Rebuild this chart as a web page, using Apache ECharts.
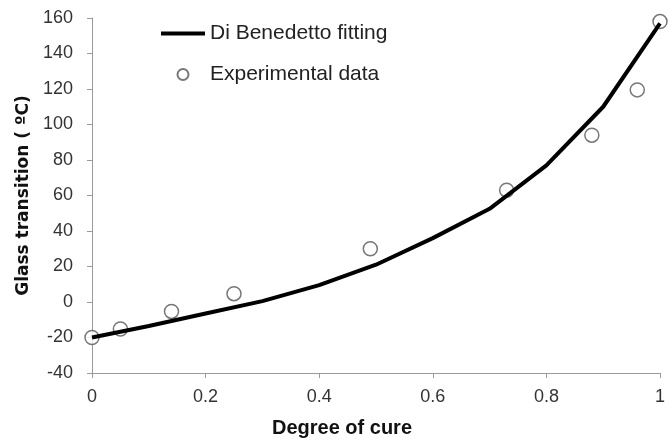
<!DOCTYPE html>
<html>
<head>
<meta charset="utf-8">
<script src="https://cdn.jsdelivr.net/npm/echarts@6/dist/echarts.min.js"></script>
<style>
  html, body { margin: 0; padding: 0; background: #fff; }
  #chart { width: 668px; height: 445px; }
</style>
</head>
<body>
<div id="chart"></div>
<script>
// Di Benedetto model curve, sampled every 0.1 of cure
const fitCure = [0, 0.1, 0.2, 0.3, 0.4, 0.5, 0.6, 0.7, 0.8, 0.9, 1.0];
const fitTg = [-20, -13.5, -6.5, 0.5, 9.5, 21, 36, 52.5, 77, 110, 157];

// Measured glass transition temperatures
const expCure = [0, 0.05, 0.14, 0.25, 0.49, 0.73, 0.88, 0.96, 1.0];
const expTg = [-20, -15.2, -5.3, 4.7, 30, 63, 94, 119.5, 158];

const seriesNames = ['Di Benedetto fitting', 'Experimental data'];
const xTitle = 'Degree of cure';
const yTitle = 'Glass transition ( \u00baC)';

const pair = (xs, ys) => xs.map((x, i) => [x, ys[i]]);

const axisGray = '#9a9a9a';
const labelFont = { fontFamily: 'Liberation Sans', fontSize: 18, color: '#333' };

const chart = echarts.init(document.getElementById('chart'), null, { renderer: 'canvas' });
chart.setOption({
  animation: false,
  backgroundColor: '#fff',
  grid: { left: 92, right: 2, top: 18, bottom: 72, containLabel: false },
  legend: {
    left: 161,
    top: 23,
    padding: 0,
    orient: 'vertical',
    itemWidth: 44,
    itemHeight: 11,
    itemGap: 20,
    textStyle: { fontFamily: 'Liberation Sans', fontSize: 21, color: '#222', lineHeight: 21 },
    data: [
      { name: seriesNames[0], icon: 'path://M0,0 L44,0 L44,4 L0,4 Z',
        itemStyle: { color: '#000' } },
      { name: seriesNames[1], icon: 'circle' }
    ]
  },
  xAxis: {
    type: 'value',
    min: 0, max: 1, interval: 0.2,
    splitLine: { show: false },
    axisLine: { onZero: false, lineStyle: { color: axisGray, width: 1 } },
    axisTick: { show: true, length: 5, lineStyle: { color: axisGray } },
    axisLabel: Object.assign({ margin: 15 }, labelFont),
    name: xTitle,
    nameLocation: 'middle',
    nameGap: 45,
    nameTextStyle: { fontFamily: 'Liberation Sans', fontWeight: 'bold', fontSize: 20,
                     color: '#111', padding: [0, 68, 0, 0] }
  },
  yAxis: {
    type: 'value',
    min: -40, max: 160, interval: 20,
    splitLine: { show: false },
    axisLine: { show: true, lineStyle: { color: axisGray, width: 1 } },
    axisTick: { show: true, length: 5, lineStyle: { color: axisGray } },
    axisLabel: Object.assign({ margin: 19 }, labelFont),
    name: yTitle,
    nameLocation: 'middle',
    nameGap: 60,
    nameTextStyle: { fontFamily: 'DejaVu Sans', fontWeight: 'bold', fontSize: 17, color: '#111' }
  },
  series: [
    {
      name: seriesNames[1],
      type: 'scatter',
      data: pair(expCure, expTg),
      symbol: 'circle',
      symbolSize: 14,
      clip: false,
      z: 2,
      itemStyle: { color: '#fff', borderColor: '#555', borderWidth: 1.5 }
    },
    {
      name: seriesNames[0],
      type: 'line',
      data: pair(fitCure, fitTg),
      showSymbol: false,
      symbol: 'none',
      smooth: false,
      clip: false,
      z: 3,
      lineStyle: { color: '#000', width: 4 },
      itemStyle: { color: '#000' }
    }
  ]
});
</script>
</body>
</html>
